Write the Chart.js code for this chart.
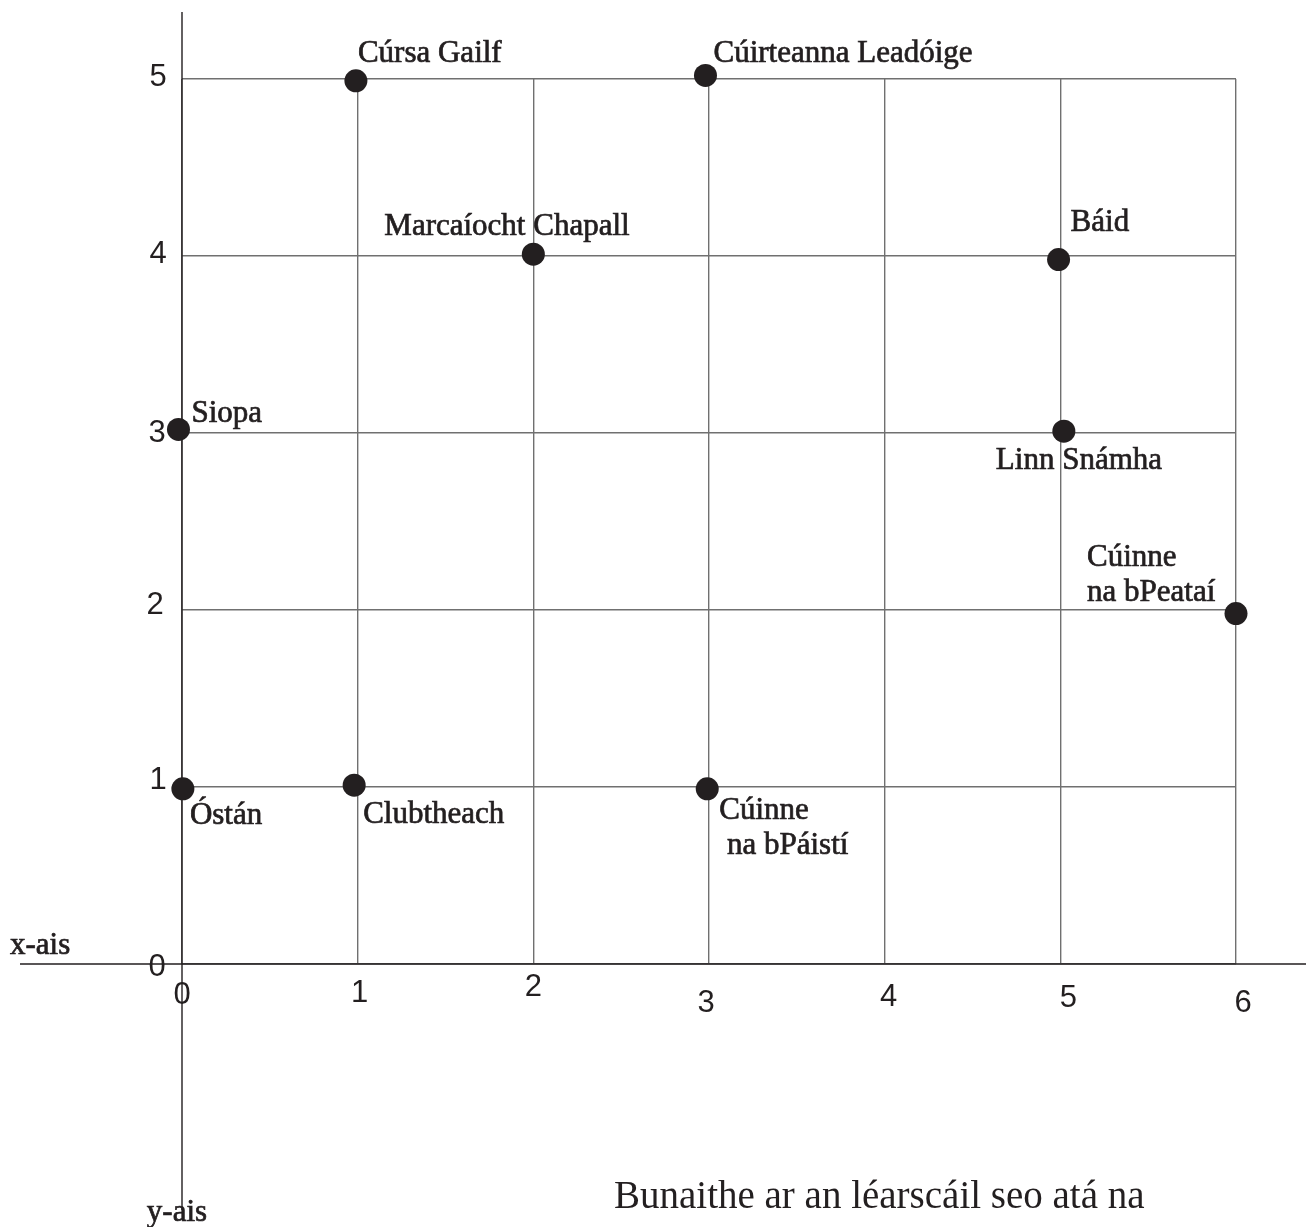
<!DOCTYPE html>
<html>
<head>
<meta charset="utf-8">
<script src="https://cdn.jsdelivr.net/npm/chart.js@4/dist/chart.umd.min.js"></script>
<style>
html,body{margin:0;padding:0;background:#fff;}
#wrap{width:1306px;height:1227px;}
</style>
</head>
<body>
<div id="wrap"><canvas id="c" width="1306" height="1227"></canvas></div>
<script>
// ---- data ----
const placeNames = ["Cúrsa Gailf","Cúirteanna Leadóige","Marcaíocht Chapall","Báid","Siopa","Linn Snámha","Cúinne\nna bPeataí","Óstán","Clubtheach","Cúinne\n na bPáistí"];
const placeX = [0.99, 2.98, 2.00, 4.99, -0.02, 5.02, 6.00, 0.005, 0.98, 2.99];
const placeY = [4.99, 5.02, 4.01, 3.98, 3.02, 3.01, 1.98, 0.99, 1.01, 0.99];
const xTickLabels = ["0","1","2","3","4","5","6"];
const yTickLabels = ["0","1","2","3","4","5"];
const xAxisTitle = "x-ais";
const yAxisTitle = "y-ais";
const footerText = "Bunaithe ar an léarscáil seo atá na";

// ---- styling / placement (not data) ----
const labelOffsets = [[2,-27],[8,-22],[-149,-27],[12,-37],[13,-16],[-68,30],[-149,-56],[7,27],[9,30],[12,22]];
const xTickNudge = [[0,31],[2,29],[0,23],[-3,39],[4,33],[8,34],[7,39]];
const yTickNudge = [[-25,3],[-24,-7],[-27,-5],[-25,0],[-24,-2],[-24,-2]];

const points = placeX.map((x,i)=>({x:x,y:placeY[i]}));
const INK = '#231f20';

function heavyText(ctx, s, x, y){
  ctx.fillText(s, x, y);
  ctx.strokeText(s, x, y);
}

const decor = {
  id:'decor',
  beforeDatasetsDraw(chart){
    const ctx = chart.ctx, xs = chart.scales.x, ys = chart.scales.y;
    const x0 = xs.getPixelForValue(0), y0 = ys.getPixelForValue(0);
    ctx.save();
    ctx.strokeStyle = INK; ctx.lineWidth = 1.4;
    ctx.beginPath();
    ctx.moveTo(x0, 12); ctx.lineTo(x0, 1210);
    ctx.moveTo(20, y0); ctx.lineTo(1306, y0);
    ctx.stroke();
    ctx.restore();
  },
  afterDraw(chart){
    const ctx = chart.ctx, xs = chart.scales.x, ys = chart.scales.y;
    ctx.save();
    ctx.fillStyle = INK; ctx.strokeStyle = INK;
    // tick labels
    ctx.font = '31px "Liberation Sans", Arial, sans-serif';
    ctx.textAlign = 'center'; ctx.textBaseline = 'middle';
    xTickLabels.forEach((t,i)=>{
      const px = xs.getPixelForValue(Number(t)), py = ys.getPixelForValue(0);
      ctx.fillText(t, px + xTickNudge[i][0], py + xTickNudge[i][1]);
    });
    yTickLabels.forEach((t,i)=>{
      const px = xs.getPixelForValue(0), py = ys.getPixelForValue(Number(t));
      ctx.fillText(t, px + yTickNudge[i][0], py + yTickNudge[i][1]);
    });
    // point labels
    ctx.lineWidth = 0.7;
    ctx.font = '31px "Liberation Serif", "Times New Roman", serif';
    ctx.textAlign = 'left'; ctx.textBaseline = 'middle';
    placeNames.forEach((n,i)=>{
      const px = xs.getPixelForValue(placeX[i]), py = ys.getPixelForValue(placeY[i]);
      n.split('\n').forEach((line,j)=>{
        heavyText(ctx, line, px + labelOffsets[i][0], py + labelOffsets[i][1] + j*35);
      });
    });
    // axis titles
    ctx.font = '31px "Liberation Serif", "Times New Roman", serif';
    ctx.textAlign = 'left';
    heavyText(ctx, xAxisTitle, 10, 946);
    ctx.textAlign = 'center';
    heavyText(ctx, yAxisTitle, 177, 1213);
    // footer
    ctx.font = '39px "Liberation Serif", "Times New Roman", serif';
    ctx.textAlign = 'left'; ctx.textBaseline = 'alphabetic';
    ctx.fillText(footerText, 614, 1208);
    ctx.restore();
  }
};

new Chart(document.getElementById('c'), {
  type:'scatter',
  data:{datasets:[{
    data:points, clip:false,
    backgroundColor:INK, borderColor:INK,
    pointRadius:11.5, pointHoverRadius:11.5, borderWidth:0
  }]},
  options:{
    responsive:false, animation:false,
    layout:{padding:{left:182,right:70,top:79,bottom:263}},
    plugins:{legend:{display:false},tooltip:{enabled:false}},
    scales:{
      x:{type:'linear',min:0,max:6,
         ticks:{display:false,stepSize:1},
         grid:{color:'#707070',lineWidth:1.4,drawTicks:false},
         border:{display:false}},
      y:{type:'linear',min:0,max:5,
         ticks:{display:false,stepSize:1},
         grid:{color:'#707070',lineWidth:1.4,drawTicks:false},
         border:{display:false}}
    }
  },
  plugins:[decor]
});
</script>
</body>
</html>
